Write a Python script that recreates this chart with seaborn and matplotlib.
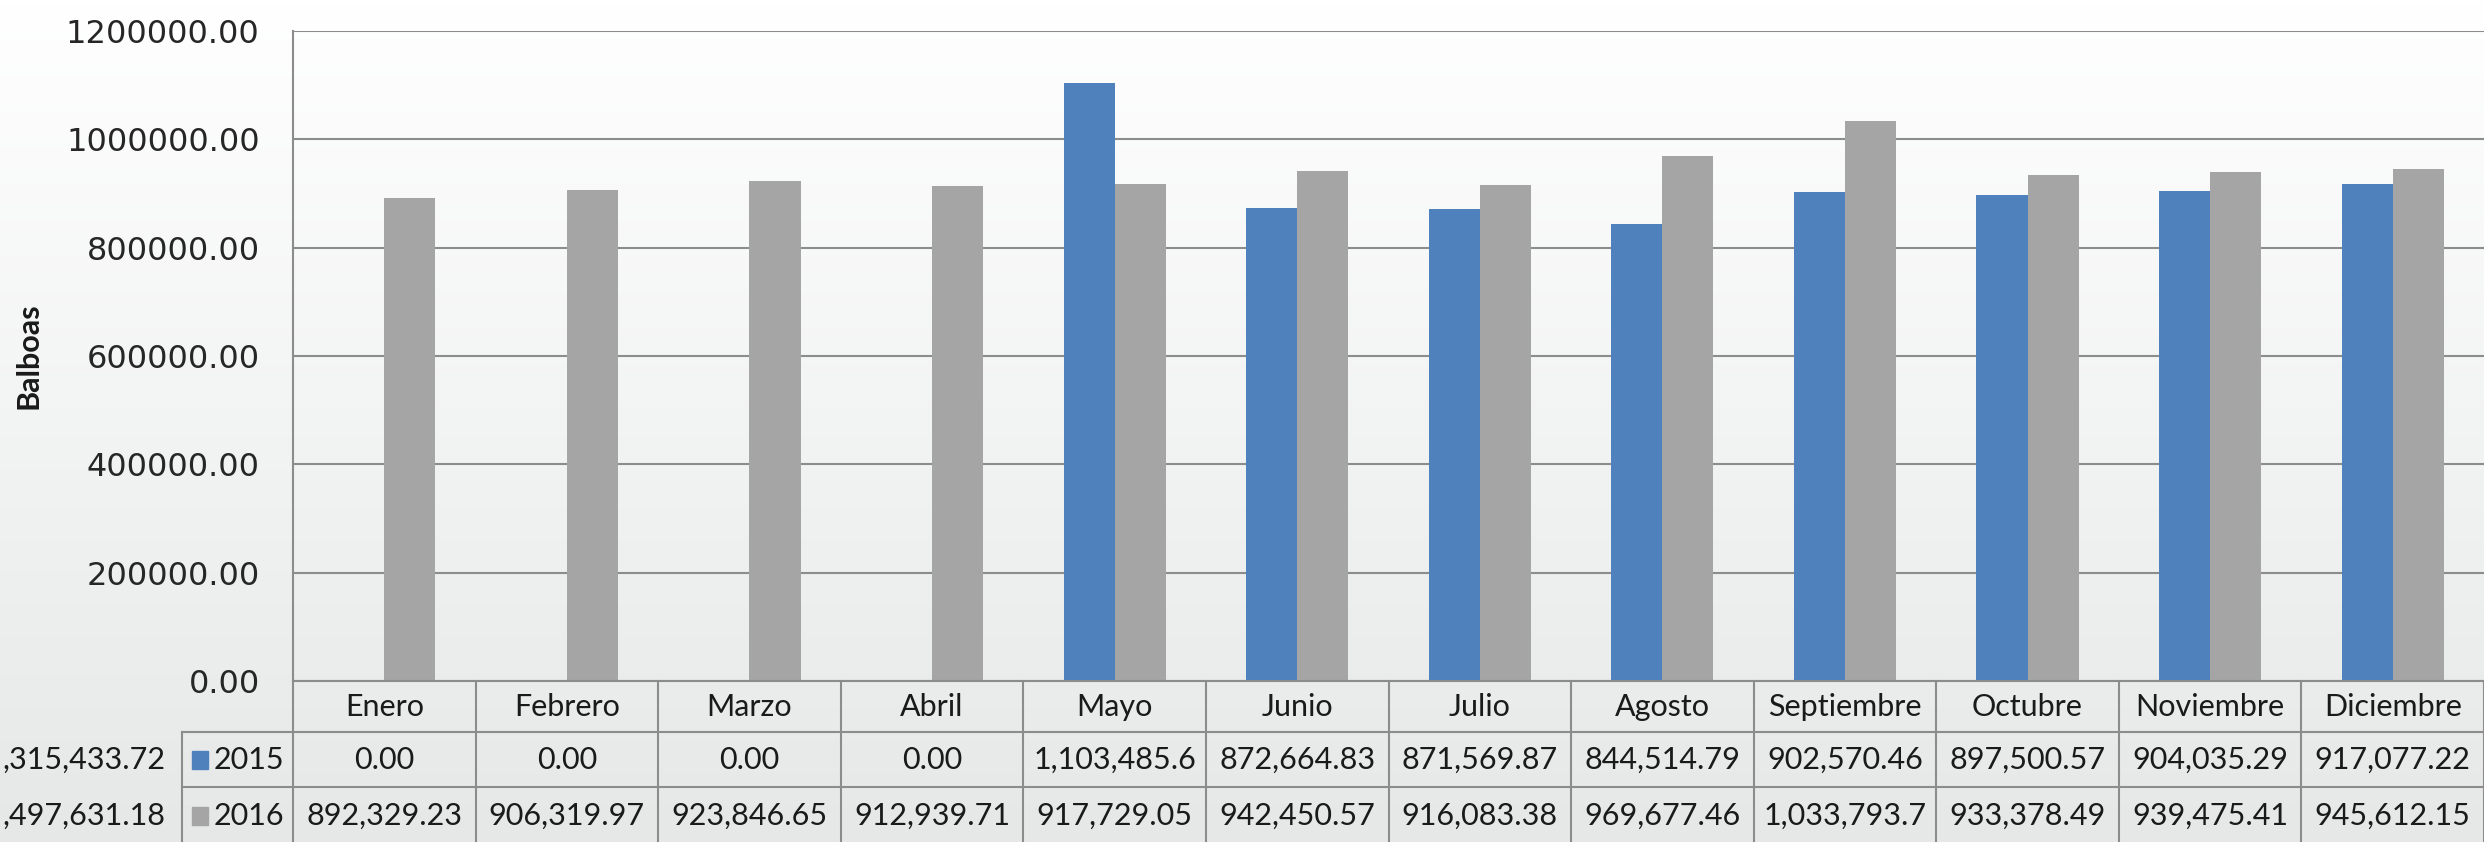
import numpy as np
import pandas as pd
import matplotlib
matplotlib.use('Agg')
import matplotlib.pyplot as plt
import seaborn as sns
from matplotlib.colors import LinearSegmentedColormap
from matplotlib.lines import Line2D
from matplotlib.patches import Rectangle
from matplotlib.ticker import MultipleLocator, FormatStrFormatter
from matplotlib.transforms import blended_transform_factory

# Datos del grafico
meses = ['Enero', 'Febrero', 'Marzo', 'Abril', 'Mayo', 'Junio', 'Julio',
         'Agosto', 'Septiembre', 'Octubre', 'Noviembre', 'Diciembre']
anios = ['2015', '2016']
valores_2015 = [0.00, 0.00, 0.00, 0.00, 1103485.6, 872664.83, 871569.87,
                844514.79, 902570.46, 897500.57, 904035.29, 917077.22]
valores_2016 = [892329.23, 906319.97, 923846.65, 912939.71, 917729.05, 942450.57,
                916083.38, 969677.46, 1033793.7, 933378.49, 939475.41, 945612.15]
totales = [',315,433.72', ',497,631.18']  # recortados en el borde izquierdo
colores = ['#4f81bd', '#a5a5a5']

W, H = 2484, 842
FUENTE_TABLA = ['Lato', 'Liberation Sans', 'DejaVu Sans']
GRIS_LINEA = '#8c8c8c'
TXT = '#1a1a1a'


def fy(px):
    """Convierte pixel vertical (desde arriba) a fraccion de figura"""
    return 1 - px / H


def fx(px):
    return px / W


def formato(v):
    """Formato tipo Excel, recorta decimales si no cabe"""
    texto = f'{v:,.2f}'
    if len(texto) > 11:
        texto = f'{v:,.1f}'
    return texto


df = pd.DataFrame({
    'Mes': meses * 2,
    'Año': [anios[0]] * len(meses) + [anios[1]] * len(meses),
    'Balboas': valores_2015 + valores_2016,
})

fig = plt.figure(figsize=(W / 100, H / 100), dpi=100)

# fondo degradado
fondo = fig.add_axes([0, 0, 1, 1], zorder=-10)
degradado = LinearSegmentedColormap.from_list('fondo', ['#e6e8e8', '#ffffff'])
fondo.imshow(np.linspace(0, 1, 256).reshape(-1, 1), aspect='auto', cmap=degradado,
             origin='lower', extent=[0, 1, 0, 1])
fondo.axis('off')

ax = fig.add_axes([fx(293), fy(681), 1 - fx(293), (681 - 31) / H])
ax.patch.set_alpha(0)
sns.barplot(data=df, x='Mes', y='Balboas', hue='Año', order=meses, hue_order=anios,
            palette=colores, saturation=1, width=0.56, gap=0, errorbar=None,
            linewidth=0, legend=False, ax=ax)

ax.set_xlim(-0.5, len(meses) - 0.5)
ax.set_ylim(0, 1200000)
ax.yaxis.set_major_locator(MultipleLocator(200000))
ax.yaxis.set_major_formatter(FormatStrFormatter('%.2f'))
ax.grid(axis='y', color=GRIS_LINEA, linewidth=1.5)
ax.set_axisbelow(True)
for lado in ['top', 'right', 'bottom']:
    ax.spines[lado].set_visible(False)
ax.spines['left'].set_color(GRIS_LINEA)
ax.spines['left'].set_linewidth(1.5)
ax.tick_params(axis='y', length=0, pad=24, labelsize=23, labelcolor='#262626')
ax.tick_params(axis='x', length=0, labelbottom=False)
ax.set_xlabel('')
ax.set_ylabel('')
fig.text(fx(29), fy(356), 'Balboas', rotation=90, ha='center', va='center',
         fontsize=22, fontweight='bold', color=TXT, family=FUENTE_TABLA)

# tabla de datos bajo el eje
trans = blended_transform_factory(ax.transData, fig.transFigure)
lin = dict(color=GRIS_LINEA, linewidth=1.5, clip_on=False)
ax.plot([-0.5, len(meses) - 0.5], [fy(681), fy(681)], transform=trans, **lin)
for i in range(len(meses) + 1):
    ax.plot([i - 0.5, i - 0.5], [fy(681), 0], transform=trans, **lin)
for ypx in [732, 787]:
    fig.add_artist(Line2D([fx(182), 1], [fy(ypx), fy(ypx)], **lin))
fig.add_artist(Line2D([fx(182), fx(182)], [fy(732), 0], **lin))

centros_filas = [707, 760, 816]
for i, mes in enumerate(meses):
    ax.text(i, fy(centros_filas[0]), mes, transform=trans, ha='center', va='center',
            fontsize=22, family=FUENTE_TABLA, color=TXT)
    for fila, serie in enumerate([valores_2015, valores_2016]):
        ax.text(i, fy(centros_filas[fila + 1]), formato(serie[i]), transform=trans,
                ha='center', va='center', fontsize=22, family=FUENTE_TABLA, color=TXT)

for fila, (anio, color, total) in enumerate(zip(anios, colores, totales)):
    yc = centros_filas[fila + 1]
    fig.add_artist(Rectangle((fx(192), fy(yc + 9)), 16 / W, 18 / H, color=color))
    fig.text(fx(214), fy(yc), anio, ha='left', va='center', fontsize=22,
             family=FUENTE_TABLA, color=TXT)
    fig.text(fx(2), fy(yc), total, ha='left', va='center', fontsize=22,
             family=FUENTE_TABLA, color=TXT)

fig.savefig('out.png', dpi=100)
